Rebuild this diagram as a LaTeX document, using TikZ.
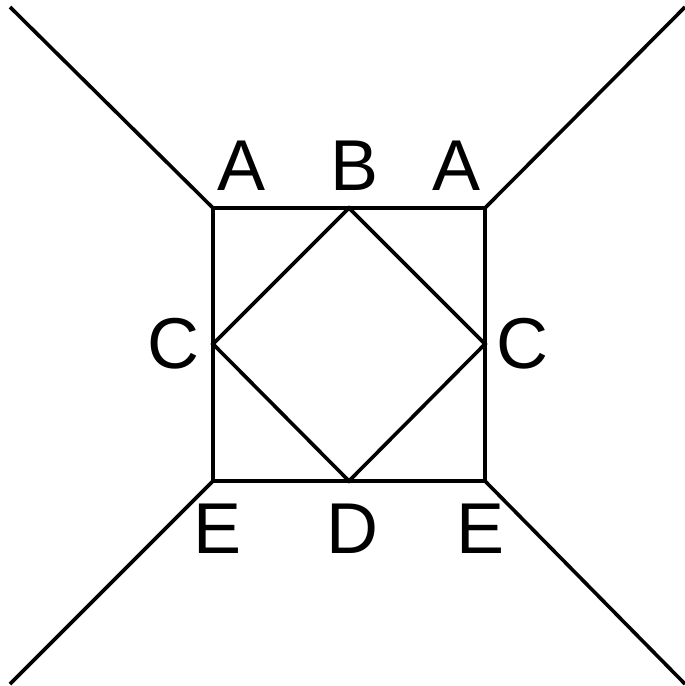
\documentclass[tikz,border=0pt]{standalone}
\usepackage{fontspec}
\setmainfont{Liberation Sans}
\usetikzlibrary{positioning}

\begin{document}
\begin{tikzpicture}[x=1pt, y=-1pt,
  edge/.style ={draw=black, line width=3.6pt, line join=miter},
  lbl/.style  ={font=\fontsize{72}{80}\selectfont, inner sep=0pt}]

  \useasboundingbox (0,0) rectangle (685,686);

  % --- square and diamond ------------------------------------------------
  \coordinate (tl) at (213,208);
  \coordinate (tr) at (485,208);
  \coordinate (br) at (485,481);
  \coordinate (bl) at (213,481);
  \coordinate (mt) at (349,208);
  \coordinate (mr) at (485,344);
  \coordinate (mb) at (349,481);
  \coordinate (ml) at (213,344);

  % --- outer ends ----------------------------------------------------------
  \coordinate (otl) at (10,7);
  \coordinate (otr) at (685,7);
  \coordinate (obr) at (685,684);
  \coordinate (obl) at (10,684);

  % --- labels --------------------------------------------------------------
  \node[lbl] (a1) at (242,166) {A};
  \node[lbl] (b)  at (355,166) {B};
  \node[lbl] (a2) at (457,166) {A};
  \node[lbl] (c1) at (173,344) {C};
  \node[lbl] (c2) at (522,344) {C};
  \node[lbl] (e1) at (218,529) {E};
  \node[lbl] (d)  at (352,529) {D};
  \node[lbl] (e2) at (481,529) {E};

  % --- edges ---------------------------------------------------------------
  \draw[edge] (tl) -- (tr) -- (br) -- (bl) -- cycle;
  \draw[edge] (mt) -- (mr) -- (mb) -- (ml) -- cycle;
  \draw[edge] (otl) -- (tl);  \draw[edge] (otr) -- (tr);
  \draw[edge] (obr) -- (br);  \draw[edge] (obl) -- (bl);
\end{tikzpicture}
\end{document}
